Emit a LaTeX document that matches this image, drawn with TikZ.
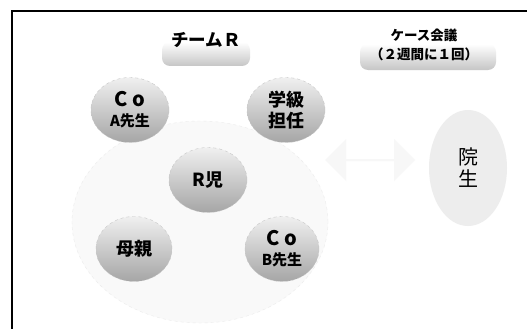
\documentclass[tikz,border=0pt]{standalone}
\usepackage{fontspec}
\setmainfont{Noto Sans CJK JP}
\usetikzlibrary{shapes.geometric,shapes.arrows}
\tikzset{
  ball/.style={ellipse, inner sep=0pt, minimum width=78pt, minimum height=65pt,
    top color=gray!12, bottom color=gray!70, draw=gray!45, dashed, line width=0.4pt,
    align=center, text=black, font=\bfseries\fontsize{18}{21}\selectfont},
  blob/.style={rounded corners=8pt, top color=white, bottom color=gray!45, draw=none},
  lbl/.style={align=center, text=black, font=\bfseries},
}
\newcommand{\cotxt}{\fontsize{20}{20}\selectfont}
\newcommand{\smalltxt}{\fontsize{15}{16}\selectfont}
\begin{document}
\begin{tikzpicture}[x=1pt,y=-1pt]
\useasboundingbox (0,0) rectangle (527,329);
\fill[white] (0,0) rectangle (527,329);
% frame (top and left visible)
\draw[line width=1.8pt, black] (12,340) -- (12,11) -- (540,11);
% big team ellipse
\node[ellipse, minimum width=256pt, minimum height=202pt, fill=gray!5, draw=gray!15, dashed] (team) at (200,222) {};
% faint arrow between team and 院生
\node[double arrow, fill=gray!6, draw=none, minimum width=42pt, minimum height=90pt,
  double arrow head extend=4pt, inner sep=0pt] (arr) at (370,160) {};
% label blobs
\node[blob, minimum width=88pt, minimum height=24pt] (blobR) at (206,54) {};
\node[lbl, font=\bfseries\fontsize{17.5}{19}\selectfont] (teamR) at (206,40) {チームＲ};
\node[blob, minimum width=136pt, minimum height=26pt] (blobK) at (428,57) {};
\node[lbl, font=\bfseries\fontsize{13.5}{18.5}\selectfont] (kaigi) at (424,45) {ケース会議\\（２週間に１回）};
% balls
\node[ball] (coA) at (130,110) {\cotxt C o\\[-1pt]\smalltxt A先生};
\node[ball] (gakkyu) at (286,110) {学級\\担任};
\node[ball] (rji) at (208,180) {R児};
\node[ball, minimum width=76pt] (haha) at (134,249) {母親};
\node[ball, minimum width=74pt] (coB) at (282,249) {\cotxt C o\\[-1pt]\smalltxt B先生};
% 院生
\node[ellipse, minimum width=78pt, minimum height=116pt, fill=gray!14, draw=none,
  align=center, font=\fontsize{20}{22}\selectfont] (insei) at (468,168) {院\\生};
\end{tikzpicture}
\end{document}
